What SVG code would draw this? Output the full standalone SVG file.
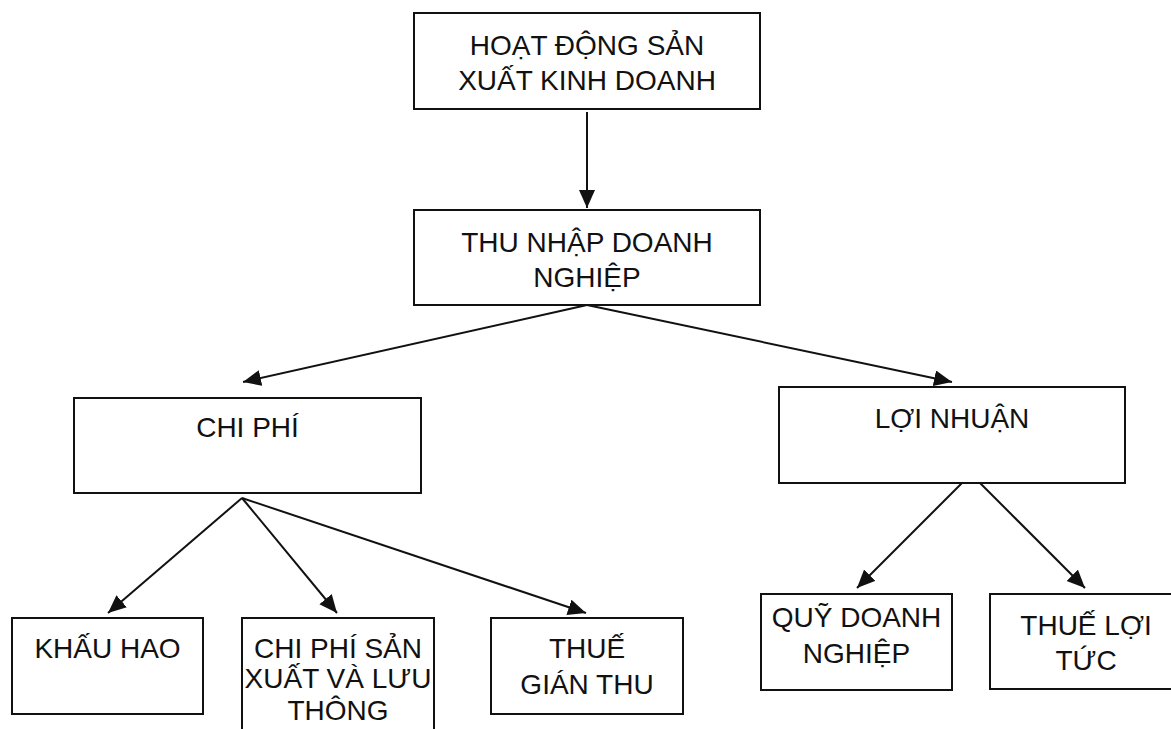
<svg xmlns="http://www.w3.org/2000/svg" width="1171" height="729" viewBox="0 0 1171 729">
  <style>
    .box { fill: #ffffff; stroke: #111111; stroke-width: 2; }
    .lbl { font-family: "Liberation Sans", Arial, sans-serif; font-size: 28px; fill: #111111; text-anchor: middle; }
    .edge { stroke: #111111; stroke-width: 2; fill: none; marker-end: url(#arrow); }
  </style>
  <defs>
    <marker id="arrow" markerUnits="userSpaceOnUse" markerWidth="19" markerHeight="17" refX="18" refY="8" orient="auto">
      <path d="M0,0 L18,8 L0,16 z" fill="#111111"/>
    </marker>
  </defs>

  <rect width="1171" height="729" fill="#ffffff"/>

  <!-- connectors -->
  <g id="connectors">
    <line class="edge" x1="587" y1="112" x2="587" y2="208"/>
    <line class="edge" x1="587" y1="305" x2="243" y2="382"/>
    <line class="edge" x1="587" y1="305" x2="952" y2="382"/>
    <line class="edge" x1="242" y1="498" x2="108" y2="613"/>
    <line class="edge" x1="242" y1="498" x2="337" y2="613"/>
    <line class="edge" x1="242" y1="498" x2="586" y2="613"/>
    <line class="edge" x1="971" y1="474" x2="857" y2="588"/>
    <line class="edge" x1="971" y1="474" x2="1085" y2="588"/>
  </g>

  <g id="hoat-dong">
    <rect class="box" x="414" y="13" width="346" height="96"/>
    <text class="lbl" x="587" y="55">HOẠT ĐỘNG SẢN</text>
    <text class="lbl" x="587" y="90">XUẤT KINH DOANH</text>
  </g>

  <g id="thu-nhap">
    <rect class="box" x="414" y="210" width="346" height="95"/>
    <text class="lbl" x="587" y="252">THU NHẬP DOANH</text>
    <text class="lbl" x="587" y="287">NGHIỆP</text>
  </g>

  <g id="chi-phi">
    <rect class="box" x="74" y="398" width="347" height="95"/>
    <text class="lbl" x="247.5" y="437">CHI PHÍ</text>
  </g>

  <g id="loi-nhuan">
    <rect class="box" x="779" y="387" width="346" height="96"/>
    <text class="lbl" x="952" y="428">LỢI NHUẬN</text>
  </g>

  <g id="khau-hao">
    <rect class="box" x="12" y="618" width="191" height="96"/>
    <text class="lbl" x="107.5" y="658">KHẤU HAO</text>
  </g>

  <g id="chi-phi-sx">
    <rect class="box" x="242" y="618" width="192" height="120"/>
    <text class="lbl" x="338" y="658">CHI PHÍ SẢN</text>
    <text class="lbl" x="338" y="688">XUẤT VÀ LƯU</text>
    <text class="lbl" x="338" y="720">THÔNG</text>
  </g>

  <g id="thue-gian-thu">
    <rect class="box" x="491" y="618" width="192" height="96"/>
    <text class="lbl" x="587" y="658">THUẾ</text>
    <text class="lbl" x="587" y="694">GIÁN THU</text>
  </g>

  <g id="quy-dn">
    <rect class="box" x="761" y="594" width="191" height="96"/>
    <text class="lbl" x="856.5" y="627">QUỸ DOANH</text>
    <text class="lbl" x="856.5" y="663">NGHIỆP</text>
  </g>

  <g id="thue-loi-tuc">
    <rect class="box" x="990" y="594" width="192" height="95"/>
    <text class="lbl" x="1086" y="635">THUẾ LỢI</text>
    <text class="lbl" x="1086" y="670">TỨC</text>
  </g>
</svg>
